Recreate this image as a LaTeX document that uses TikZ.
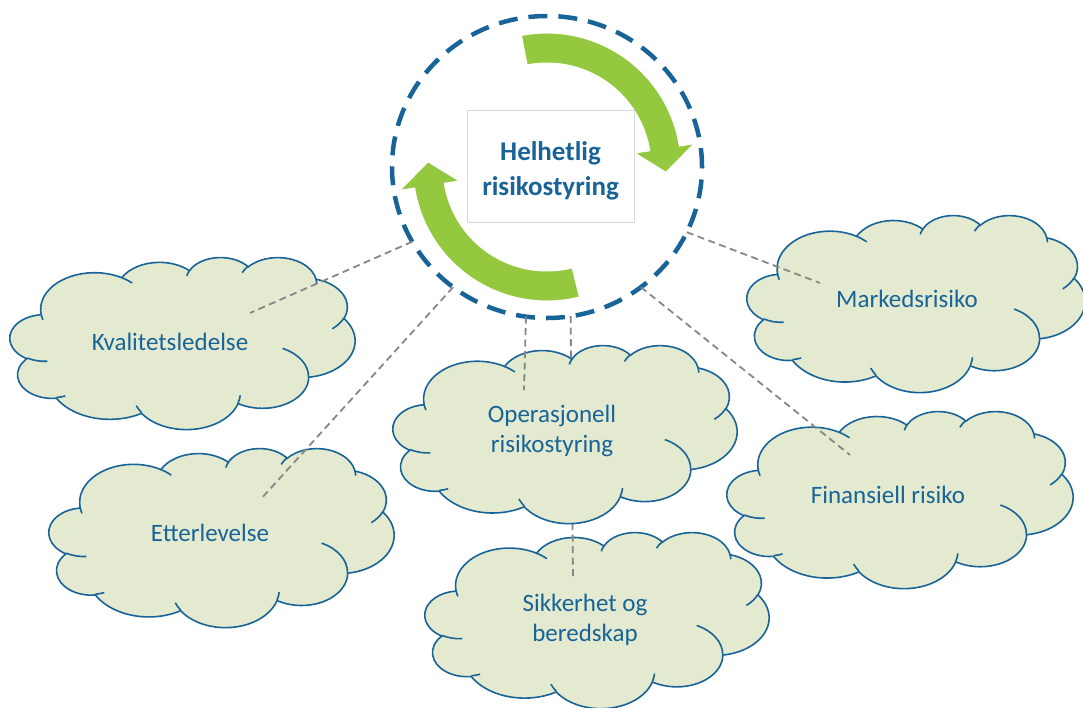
\documentclass[tikz,border=0pt]{standalone}
\usepackage{fontspec}
\setmainfont{Carlito}
\usetikzlibrary{shapes.geometric}
\definecolor{riskblue}{RGB}{24,100,152}
\definecolor{cloudfill}{RGB}{227,234,207}
\definecolor{cyclegreen}{RGB}{148,200,62}
\definecolor{linkgray}{RGB}{135,135,135}
\tikzset{
  cloudline/.style={draw=riskblue, line width=1.6pt},
  cloudtext/.style={text=riskblue, align=center, font=\fontsize{25}{30}\selectfont},
  ring/.style={ellipse, draw=riskblue, line width=4.5pt, dash pattern=on 19pt off 11pt,
    minimum width=310pt, minimum height=302pt, outer sep=0pt},
  cyclearrow/.style={fill=cyclegreen, draw=white, line width=1pt},
  titlebox/.style={draw=black!15, fill=white, minimum width=167pt, minimum height=112pt,
    align=center, text=riskblue, font=\bfseries\fontsize{27}{35}\selectfont},
  link/.style={draw=linkgray, line width=1.8pt, dash pattern=on 7pt off 4.5pt},
}
% one puff of the cloud: x radius, y radius, start angle and sweep as seen on the ellipse
\newcommand{\cloudarc}[4]{%
  \pgfextra{%
    \pgfmathparse{atan2(#1*sin(#3),#2*cos(#3))}\xdef\cloudsa{\pgfmathresult}%
    \pgfmathparse{atan2(#1*sin(#3+#4),#2*cos(#3+#4))}\xdef\cloudea{\pgfmathresult}%
    \pgfmathparse{mod(\cloudea-\cloudsa+720,360)}\xdef\cloudda{\pgfmathresult}%
  }
  arc[start angle=\cloudsa, delta angle=\cloudda, x radius=#1, y radius=#2]}
% cloud in a 100x100 box: left, top, width, height
\newcommand{\riskcloud}[4]{%
  \pgfmathsetmacro{\cloudw}{#3/100}%
  \pgfmathsetmacro{\cloudh}{#4/100}%
  \begin{scope}[shift={(#1,#2)}, x=\cloudw pt, y=-\cloudh pt]
    \path[cloudline, fill=cloudfill] (9.028,33.264)
      \cloudarc{15.632}{21.273}{-190.487}{123.781}
      \cloudarc{12.345}{16.822}{-144.102}{89.945}
      \cloudarc{10.104}{13.762}{-145.808}{99.723}
      \cloudarc{11.243}{15.266}{-130.986}{117.242}
      \cloudarc{12.345}{16.836}{-78.709}{109.027}
      \cloudarc{15.683}{21.343}{-46.270}{130.272}
      \cloudarc{13.391}{18.211}{0.625}{114.033}
      \cloudarc{15.630}{21.331}{22.452}{115.173}
      \cloudarc{17.870}{24.405}{66.243}{75.711}
      \cloudarc{10.093}{13.699}{-274.942}{146.736}
      \cloudarc{10.058}{13.762}{-246.829}{152.519} -- cycle;
    % inner strokes between the puffs
    \draw[cloudline]
      (10.863,60.595) \cloudarc{10.058}{13.762}{86.742}{26.430}
      (16.037,80.785) \cloudarc{10.093}{13.699}{73.610}{11.447}
      (38.144,90.486) \cloudarc{15.630}{21.331}{137.624}{14.081}
      (66.729,80.442) \cloudarc{15.630}{21.331}{6.453}{15.998}
      (79.002,53.134) \cloudarc{13.391}{18.211}{-70.292}{70.917}
      (96.755,35.542) \cloudarc{12.345}{16.836}{30.318}{27.752}
      (88.713,12.560) \cloudarc{11.243}{15.266}{-13.744}{14.854}
      (67.310,9.148) \cloudarc{11.243}{15.266}{-149.181}{18.195}
      (51.252,10.926) \cloudarc{10.104}{13.762}{-163.494}{17.686}
      (32.407,12.019) \cloudarc{15.632}{21.273}{-66.707}{12.319}
      (9.553,36.549) \cloudarc{15.632}{21.273}{157.654}{11.858};
  \end{scope}}

\begin{document}
\begin{tikzpicture}[x=1pt, y=-1pt]
  \useasboundingbox (0,0) rectangle (1083,707);
  \node[ring] (ring) at (547,167) {};
  % free ends of the dashed links, inside the clouds
  \coordinate (kval-end) at (250,313);
  \coordinate (etter-end) at (260,500);
  \coordinate (opr-end) at (524,390);
  \coordinate (sikk-end) at (573,579);
  \coordinate (mark-end) at (820,283);
  \coordinate (fin-end) at (850,455);

  % ---------------- clouds ----------------
  \riskcloud{10}{257}{345}{172}
  \riskcloud{49}{448}{345}{179}
  \riskcloud{747}{215}{338}{177}
  \riskcloud{727}{411}{346}{177}
  \riskcloud{425}{532}{344}{176}
  % this link runs behind the middle cloud
  \draw[link] (ring.279.6) -- (sikk-end);
  \riskcloud{393}{345}{344}{178}

  % ---------------- cycle in the ring ----------------
  \begin{scope}[shift={(547,167)}, y=1pt]
    \filldraw[cyclearrow] (101:134) arc[start angle=101, end angle=9, radius=134]
      -- (9:149) -- (-2.5:119) -- (9:89) -- (9:104)
      arc[start angle=9, end angle=101, radius=104] -- cycle;
    \filldraw[cyclearrow] (284:134) arc[start angle=284, end angle=189, radius=134]
      -- (189:149) -- (177.5:119) -- (189:89) -- (189:104)
      arc[start angle=189, end angle=284, radius=104] -- cycle;
  \end{scope}
  \node[titlebox] (title) at (550.5,166) {\rule{0pt}{29pt}Helhetlig\\risikostyring};

  % ---------------- links ----------------
  \draw[link] (ring.209.7) -- (kval-end);
  \draw[link] (ring.232.2) -- (etter-end);
  \draw[link] (ring.262.9) -- (opr-end);
  \draw[link] (ring.335.9) -- (mark-end);
  \draw[link] (ring.308.2) -- (fin-end);

  \node[cloudtext] (kval) at (170,342) {Kvalitetsledelse};
  \node[cloudtext] (etter) at (210,533) {Etterlevelse};
  \node[cloudtext] (opr) at (552,431) {Operasjonell\\risikostyring};
  \node[cloudtext] (sikk) at (585,620) {Sikkerhet og\\beredskap};
  \node[cloudtext] (mark) at (907,299) {Markedsrisiko};
  \node[cloudtext] (fin) at (888,495) {Finansiell risiko};
\end{tikzpicture}
\end{document}
